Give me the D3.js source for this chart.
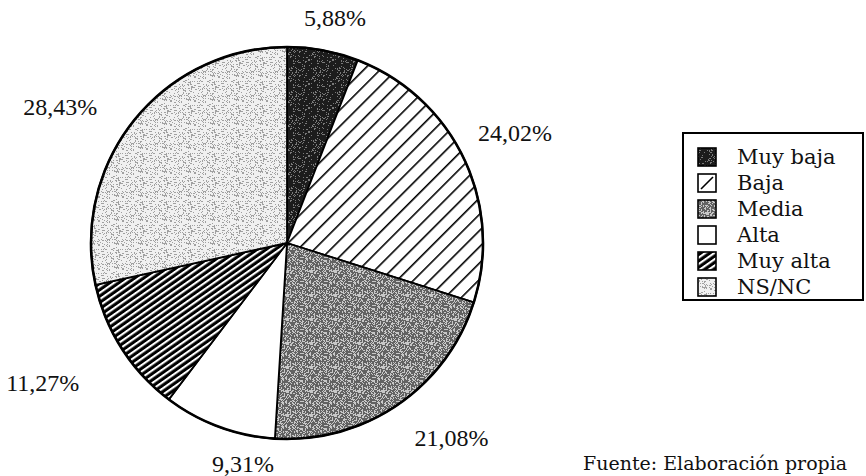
<!DOCTYPE html>
<html>
<head>
<meta charset="utf-8">
<script src="https://cdn.jsdelivr.net/npm/d3@7"></script>
<style>
  html, body { margin: 0; padding: 0; background: #fff; }
  svg { display: block; }
</style>
</head>
<body>
<svg id="chart" width="866" height="476"></svg>
<script>
// Valoración: share of answers per category (percent)
const categories = ["Muy baja", "Baja", "Media", "Alta", "Muy alta", "NS/NC"];
const values = [5.88, 24.02, 21.08, 9.31, 11.27, 28.43];
const valueLabels = ["5,88%", "24,02%", "21,08%", "9,31%", "11,27%", "28,43%"];
const sourceNote = "Fuente: Elaboración propia";

// Fill per category (pattern ids defined below)
const fills = ["url(#stipDark)", "url(#hatchWide)", "url(#stipMid)", "#ffffff", "url(#hatchDense)", "url(#stipLight)"];

// Label nudges relative to the point on the label ring at each slice's mid angle
const labelNudge = [[3, 16], [7, -4], [26, -7], [41, -9], [-38, 8], [-36, 18]];

const svg = d3.select("#chart");
const cx = 287, cy = 243, R = 196, labelRing = 245;

// ---- patterns ----
const defs = svg.append("defs");

// grainy greys: a fixed hashed dot layout on a tile
function grain(x, y) {
  const s = Math.sin(x * 12.9898 + y * 78.233) * 43758.5453;
  return s - Math.floor(s);
}
function stipple(id, bg, dot, size, density, seed) {
  const p = defs.append("pattern").attr("id", id)
    .attr("patternUnits", "userSpaceOnUse").attr("width", size).attr("height", size);
  p.append("rect").attr("width", size).attr("height", size).attr("fill", bg);
  for (let y = 0; y < size; y++) {
    for (let x = 0; x < size; x++) {
      if (grain(x + seed, y + seed * 3) < density) {
        p.append("rect").attr("x", x).attr("y", y)
          .attr("width", 1).attr("height", 1).attr("fill", dot);
      }
    }
  }
}
stipple("stipDark", "#1c1c1c", "#7a7a7a", 24, 0.14, 1);
stipple("stipMid", "#626262", "#c8c8c8", 24, 0.4, 7);
stipple("stipLight", "#f0f0f0", "#a0a0a0", 24, 0.24, 13);

// hatching
function hatch(id, bg, line, period, lw, angle) {
  const p = defs.append("pattern").attr("id", id)
    .attr("patternUnits", "userSpaceOnUse").attr("width", period).attr("height", period)
    .attr("patternTransform", `rotate(${angle})`);
  p.append("rect").attr("width", period).attr("height", period).attr("fill", bg);
  p.append("rect").attr("x", 0).attr("y", 0).attr("width", lw).attr("height", period).attr("fill", line);
}
hatch("hatchWide", "#ffffff", "#000000", 11.5, 1.6, 45);
hatch("hatchDense", "#000000", "#ffffff", 5.2, 2.1, 55);

// ---- pie ----
const pie = d3.pie().sort(null).value(d => d)(values);
const arc = d3.arc().innerRadius(0).outerRadius(R);

const g = svg.append("g").attr("transform", `translate(${cx},${cy})`);
g.selectAll("path.slice").data(pie).join("path")
  .attr("class", "slice")
  .attr("d", arc)
  .attr("fill", (d, i) => fills[i])
  .attr("stroke", "#000")
  .attr("stroke-width", 1.8)
  .attr("stroke-linejoin", "round");

g.append("circle").attr("r", R).attr("fill", "none")
  .attr("stroke", "#000").attr("stroke-width", 2.6);

// ---- value labels ----
g.selectAll("text.val").data(pie).join("text")
  .attr("class", "val")
  .attr("x", (d, i) => labelRing * Math.sin((d.startAngle + d.endAngle) / 2) + labelNudge[i][0])
  .attr("y", (d, i) => -labelRing * Math.cos((d.startAngle + d.endAngle) / 2) + labelNudge[i][1])
  .attr("text-anchor", "middle")
  .attr("dominant-baseline", "central")
  .attr("font-family", "'Liberation Serif', 'Times New Roman', serif")
  .attr("font-size", 24)
  .attr("fill", "#111")
  .text((d, i) => valueLabels[i]);

// ---- legend ----
const lg = svg.append("g").attr("transform", "translate(683,133)");
lg.append("rect").attr("width", 180).attr("height", 167)
  .attr("fill", "#fff").attr("stroke", "#000").attr("stroke-width", 2);

const rowY = d3.scalePoint().domain(categories).range([24, 154]);
const rows = lg.selectAll("g.row").data(categories).join("g")
  .attr("class", "row")
  .attr("transform", d => `translate(0,${rowY(d)})`);
rows.append("rect")
  .attr("x", 15).attr("y", -9).attr("width", 18).attr("height", 18)
  .attr("fill", (d, i) => fills[i] === "url(#hatchWide)" ? "#fff" : fills[i])
  .attr("stroke", "#000").attr("stroke-width", 1.6);
// the wide hatch shows as a single stroke at swatch size
rows.filter((d, i) => fills[i] === "url(#hatchWide)")
  .append("line")
  .attr("x1", 18).attr("y1", 6).attr("x2", 30).attr("y2", -6)
  .attr("stroke", "#000").attr("stroke-width", 1.6);
rows.append("text")
  .attr("x", 54).attr("y", 0)
  .attr("dominant-baseline", "central")
  .attr("font-family", "'DejaVu Serif', serif")
  .attr("font-size", 21)
  .attr("fill", "#111")
  .text(d => d);

// ---- source note ----
svg.append("text")
  .attr("x", 583).attr("y", 470)
  .attr("font-family", "'DejaVu Serif', serif")
  .attr("font-size", 19)
  .attr("fill", "#111")
  .text(sourceNote);
</script>
</body>
</html>
